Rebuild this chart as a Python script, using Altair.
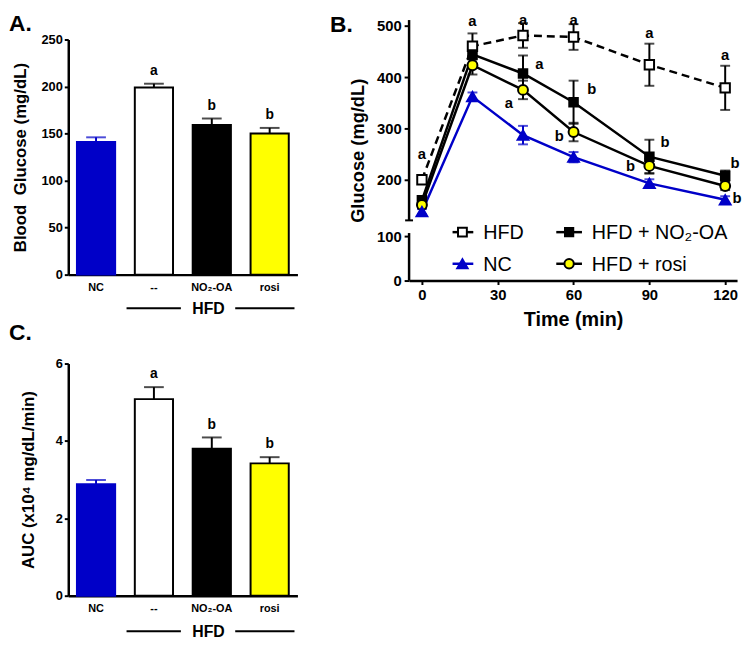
import altair as alt
import pandas as pd

FONT = "Liberation Sans"

# ---------------- data ----------------
groups = ["NC", "--", "NO₂-OA", "rosi"]
bar_fill = ["#0000C8", "#FFFFFF", "#000000", "#FFFF00"]
bar_stroke = ["#0000C8", "#000000", "#000000", "#000000"]

fasting_glucose = [141, 199, 159, 150]
fasting_sem = [5, 4, 7, 6]
fasting_letters = ["", "a", "b", "b"]

auc_values = [2.88, 5.08, 3.80, 3.42]
auc_sem = [0.11, 0.31, 0.29, 0.16]
auc_letters = ["", "a", "b", "b"]

times = [0, 20, 40, 60, 90, 120]
hfd_mean = [200, 460, 481, 478, 424, 379]
hfd_sem = [8, 25, 24, 25, 41, 43]
no2_mean = [160, 444, 407, 351, 245, 208]
no2_sem = [8, 10, 35, 42, 33, 10]
rosi_mean = [151, 423, 375, 293, 227, 188]
rosi_sem = [6, 18, 18, 18, 14, 8]
nc_mean = [138, 362, 287, 244, 193, 161]
nc_sem = [5, 8, 18, 10, 8, 7]

sig_t = [0, 20, 40, 60, 90, 120, 46.5, 67.2, 96.2, 123.9, 34.4, 54.3, 82.5, 124.7]
sig_v = [250, 509, 511, 511, 486, 442, 425, 377, 273, 233, 350, 285, 227, 165]
sig_txt = ["a", "a", "a", "a", "a", "a", "a", "b", "b", "b", "a", "b", "b", "b"]

# ---------------- bar panels ----------------
def bar_panel(values, sems, letters, ymax, tick_values, ytitle, panel_label,
              width, height, title_pad, label_y, hfd_y, anchor=False):
    df = pd.DataFrame({
        "group": groups,
        "value": values,
        "top": [v + s for v, s in zip(values, sems)],
        "letter": letters,
        "fill": bar_fill,
        "stroke": bar_stroke,
    })
    base = alt.Chart(df)
    xaxis = alt.Axis(title=None, labelAngle=0, ticks=False, domainWidth=2.5,
                     domainColor="black", labelFont=FONT, labelFontSize=11,
                     labelFontWeight="bold", labelColor="black", labelPadding=7)
    x = alt.X("group:N", sort=groups,
              scale=alt.Scale(paddingInner=0.34, paddingOuter=0.15), axis=xaxis)
    yscale = alt.Scale(domain=[0, ymax], nice=False, zero=True)
    yaxis = alt.Axis(values=tick_values, title=ytitle, grid=False, domainWidth=2.5,
                     domainColor="black", tickSize=4, tickWidth=2, tickColor="black",
                     labelFont=FONT, labelFontSize=13, labelFontWeight="bold",
                     labelColor="black", labelPadding=2, titleFont=FONT,
                     titleFontSize=17, titleFontWeight="bold", titleColor="black",
                     titlePadding=title_pad)

    def Y(field):
        return alt.Y(field, scale=yscale, axis=yaxis, title=ytitle)

    err = base.mark_rule(strokeWidth=2).encode(
        x=x, y=Y("value:Q"), y2="top:Q", color=alt.Color("stroke:N", scale=None))
    bars = base.mark_bar(strokeWidth=2).encode(
        x=x, y=Y("value:Q"),
        fill=alt.Fill("fill:N", scale=None),
        stroke=alt.Stroke("stroke:N", scale=None))
    cap = base.mark_tick(orient="horizontal", size=20, thickness=2).encode(
        x=x, y=Y("top:Q"), color=alt.Color("stroke:N", scale=None))
    lab = base.mark_text(font=FONT, fontSize=14, fontWeight="bold",
                         baseline="alphabetic", dy=-9, color="black").encode(
        x=x, y=Y("top:Q"), text="letter:N")

    one = alt.Chart(pd.DataFrame({"k": [panel_label]}))
    plabel = one.mark_text(font=FONT, fontSize=23, fontWeight="bold", align="left",
                           baseline="alphabetic", color="black").encode(
        text="k:N", x=alt.value(-60), y=alt.value(label_y))
    line1 = one.mark_rule(strokeWidth=2, color="black").encode(
        x=alt.value(59), x2=alt.value(114), y=alt.value(height + hfd_y))
    line2 = one.mark_rule(strokeWidth=2, color="black").encode(
        x=alt.value(169), x2=alt.value(229), y=alt.value(height + hfd_y))
    hfd = alt.Chart(pd.DataFrame({"k": ["HFD"]})).mark_text(
        font=FONT, fontSize=16, fontWeight="bold", baseline="middle",
        align="center", color="black").encode(
        text="k:N", x=alt.value(142), y=alt.value(height + hfd_y + 1))
    layers = [err, bars, cap, lab, plabel, line1, line2, hfd]
    if anchor:
        anc = one.mark_rule(strokeWidth=1, color="white").encode(
            x=alt.value(-60), x2=alt.value(-59), y=alt.value(-27), y2=alt.value(-26))
        layers.append(anc)
    return alt.layer(*layers).properties(width=width, height=height)


panel_a = bar_panel(fasting_glucose, fasting_sem, fasting_letters, 250,
                    [0, 50, 100, 150, 200, 250], "Blood\u00a0 Glucose (mg/dL)", "A.",
                    232, 238, 12, -9, 34, anchor=True)
panel_c = bar_panel(auc_values, auc_sem, auc_letters, 6, [0, 2, 4, 6],
                    "AUC (x10⁴ mg/dL/min)", "C.", 232, 235, 18, -24, 36)

# ---------------- GTT panel ----------------
BW, BH = 332, 244
xscale = alt.Scale(domain=[-5.08, 124.7], nice=False, zero=False)
yscale_b = alt.Scale(domain=[0, 100, 120, 511], range=[BH, 199, 183.6, -19.7],
                     nice=False, zero=False)
xaxis_b = alt.Axis(values=[0, 30, 60, 90, 120], title="Time (min)", grid=False,
                   domainWidth=2.5, domainColor="black", tickSize=4, tickWidth=2,
                   tickColor="black", labelFont=FONT, labelFontSize=15,
                   labelFontWeight="bold", labelColor="black", labelPadding=3,
                   titleFont=FONT, titleFontSize=20, titleFontWeight="bold",
                   titleColor="black", titlePadding=8)
yaxis_b = alt.Axis(values=[0, 100, 200, 300, 400, 500], title="Glucose (mg/dL)",
                   grid=False, domain=False, tickSize=5, tickWidth=2,
                   tickColor="black", labelFont=FONT, labelFontSize=15,
                   labelFontWeight="bold", labelColor="black", labelPadding=3,
                   titleFont=FONT, titleFontSize=18.5, titleFontWeight="bold",
                   titleColor="black", titlePadding=9)


def XB(field):
    return alt.X(field, scale=xscale, axis=xaxis_b, title="Time (min)")


def YB(field):
    return alt.Y(field, scale=yscale_b, axis=yaxis_b, title="Glucose (mg/dL)")


series = [
    # name, means, sems, line color, dash, shape, fill, stroke, size
    ("HFD", hfd_mean, hfd_sem, "black", [8, 5], "square", "white", "black", 90),
    ("HFD + NO₂-OA", no2_mean, no2_sem, "black", None, "square", "black", "black", 75),
    ("HFD + rosi", rosi_mean, rosi_sem, "black", None, "circle", "#FFFF00", "black", 100),
    ("NC", nc_mean, nc_sem, "#0000C8", None, "triangle-up", "#0000C8", "#0000C8", 120),
]

line_layers, err_layers, pt_layers = [], [], []
for name, means, sems, col, dash, shape, fill, stroke, size in series:
    d = pd.DataFrame({
        "t": times, "mean": means,
        "lo": [m - s for m, s in zip(means, sems)],
        "hi": [m + s for m, s in zip(means, sems)],
    })
    c = alt.Chart(d)
    lkw = dict(color=col, strokeWidth=2.5)
    if dash:
        lkw["strokeDash"] = dash
    line_layers.append(c.mark_line(**lkw).encode(x=XB("t:Q"), y=YB("mean:Q")))
    err_layers.append(c.mark_rule(color=col, strokeWidth=2).encode(
        x=XB("t:Q"), y=YB("lo:Q"), y2="hi:Q"))
    for f in ["lo:Q", "hi:Q"]:
        err_layers.append(c.mark_tick(orient="horizontal", size=10, thickness=2,
                                      color=col).encode(x=XB("t:Q"), y=YB(f)))
    pt_layers.append(c.mark_point(shape=shape, filled=True, fill=fill, stroke=stroke,
                                  strokeWidth=2, size=size, opacity=1).encode(
        x=XB("t:Q"), y=YB("mean:Q")))

# broken y axis
seg = pd.DataFrame({"lo": [0, 121], "hi": [104, 511]})
axis_segs = alt.Chart(seg).mark_rule(color="black", strokeWidth=2.5).encode(
    x=alt.value(0), y=YB("lo:Q"), y2="hi:Q")
brk = alt.Chart(pd.DataFrame({"v": [121]})).mark_rule(color="black", strokeWidth=2).encode(
    x=alt.value(-4), x2=alt.value(4), y=YB("v:Q"))

sig = alt.Chart(pd.DataFrame({"t": sig_t, "v": sig_v, "s": sig_txt})).mark_text(
    font=FONT, fontSize=15, fontWeight="bold", baseline="middle", align="center",
    color="black").encode(x=XB("t:Q"), y=YB("v:Q"), text="s:N")

# manual legend
legend_items = [
    ("HFD", 44, 65, 54, 195, "black", "square", "white", "black", 80),
    ("HFD + NO₂-OA", 149, 175, 162, 195, "black", "square", "black", "black", 70),
    ("NC", 44, 65, 54, 227, "#0000C8", "triangle-up", "#0000C8", "#0000C8", 110),
    ("HFD + rosi", 149, 175, 162, 227, "black", "circle", "#FFFF00", "black", 90),
]
leg_layers = []
for label, x1, x2, xc, yy, col, shape, fill, stroke, size in legend_items:
    c = alt.Chart(pd.DataFrame({"k": [label]}))
    leg_layers.append(c.mark_rule(color=col, strokeWidth=2.5).encode(
        x=alt.value(x1), x2=alt.value(x2), y=alt.value(yy)))
    leg_layers.append(c.mark_point(shape=shape, filled=True, fill=fill, stroke=stroke,
                                   strokeWidth=2, size=size, opacity=1).encode(
        x=alt.value(xc), y=alt.value(yy)))
    leg_layers.append(c.mark_text(font=FONT, fontSize=20, align="left",
                                  baseline="middle", color="black").encode(
        text="k:N", x=alt.value(x2 + 10), y=alt.value(yy + 1)))

blabel = alt.Chart(pd.DataFrame({"k": ["B."]})).mark_text(
    font=FONT, fontSize=23, fontWeight="bold", align="left", baseline="alphabetic",
    color="black").encode(text="k:N", x=alt.value(-80), y=alt.value(-8))

panel_b = alt.layer(
    *line_layers, *err_layers, *pt_layers, axis_segs, brk, sig, *leg_layers, blabel
).properties(width=BW, height=BH)

chart = alt.concat(
    panel_a, panel_b, panel_c, columns=2,
    spacing={"row": 84, "column": 113}, bounds="flush"
).properties(padding=0, background="white").configure_view(stroke=None)

chart.save("out.html", embed_options={"renderer": "svg", "actions": False})
